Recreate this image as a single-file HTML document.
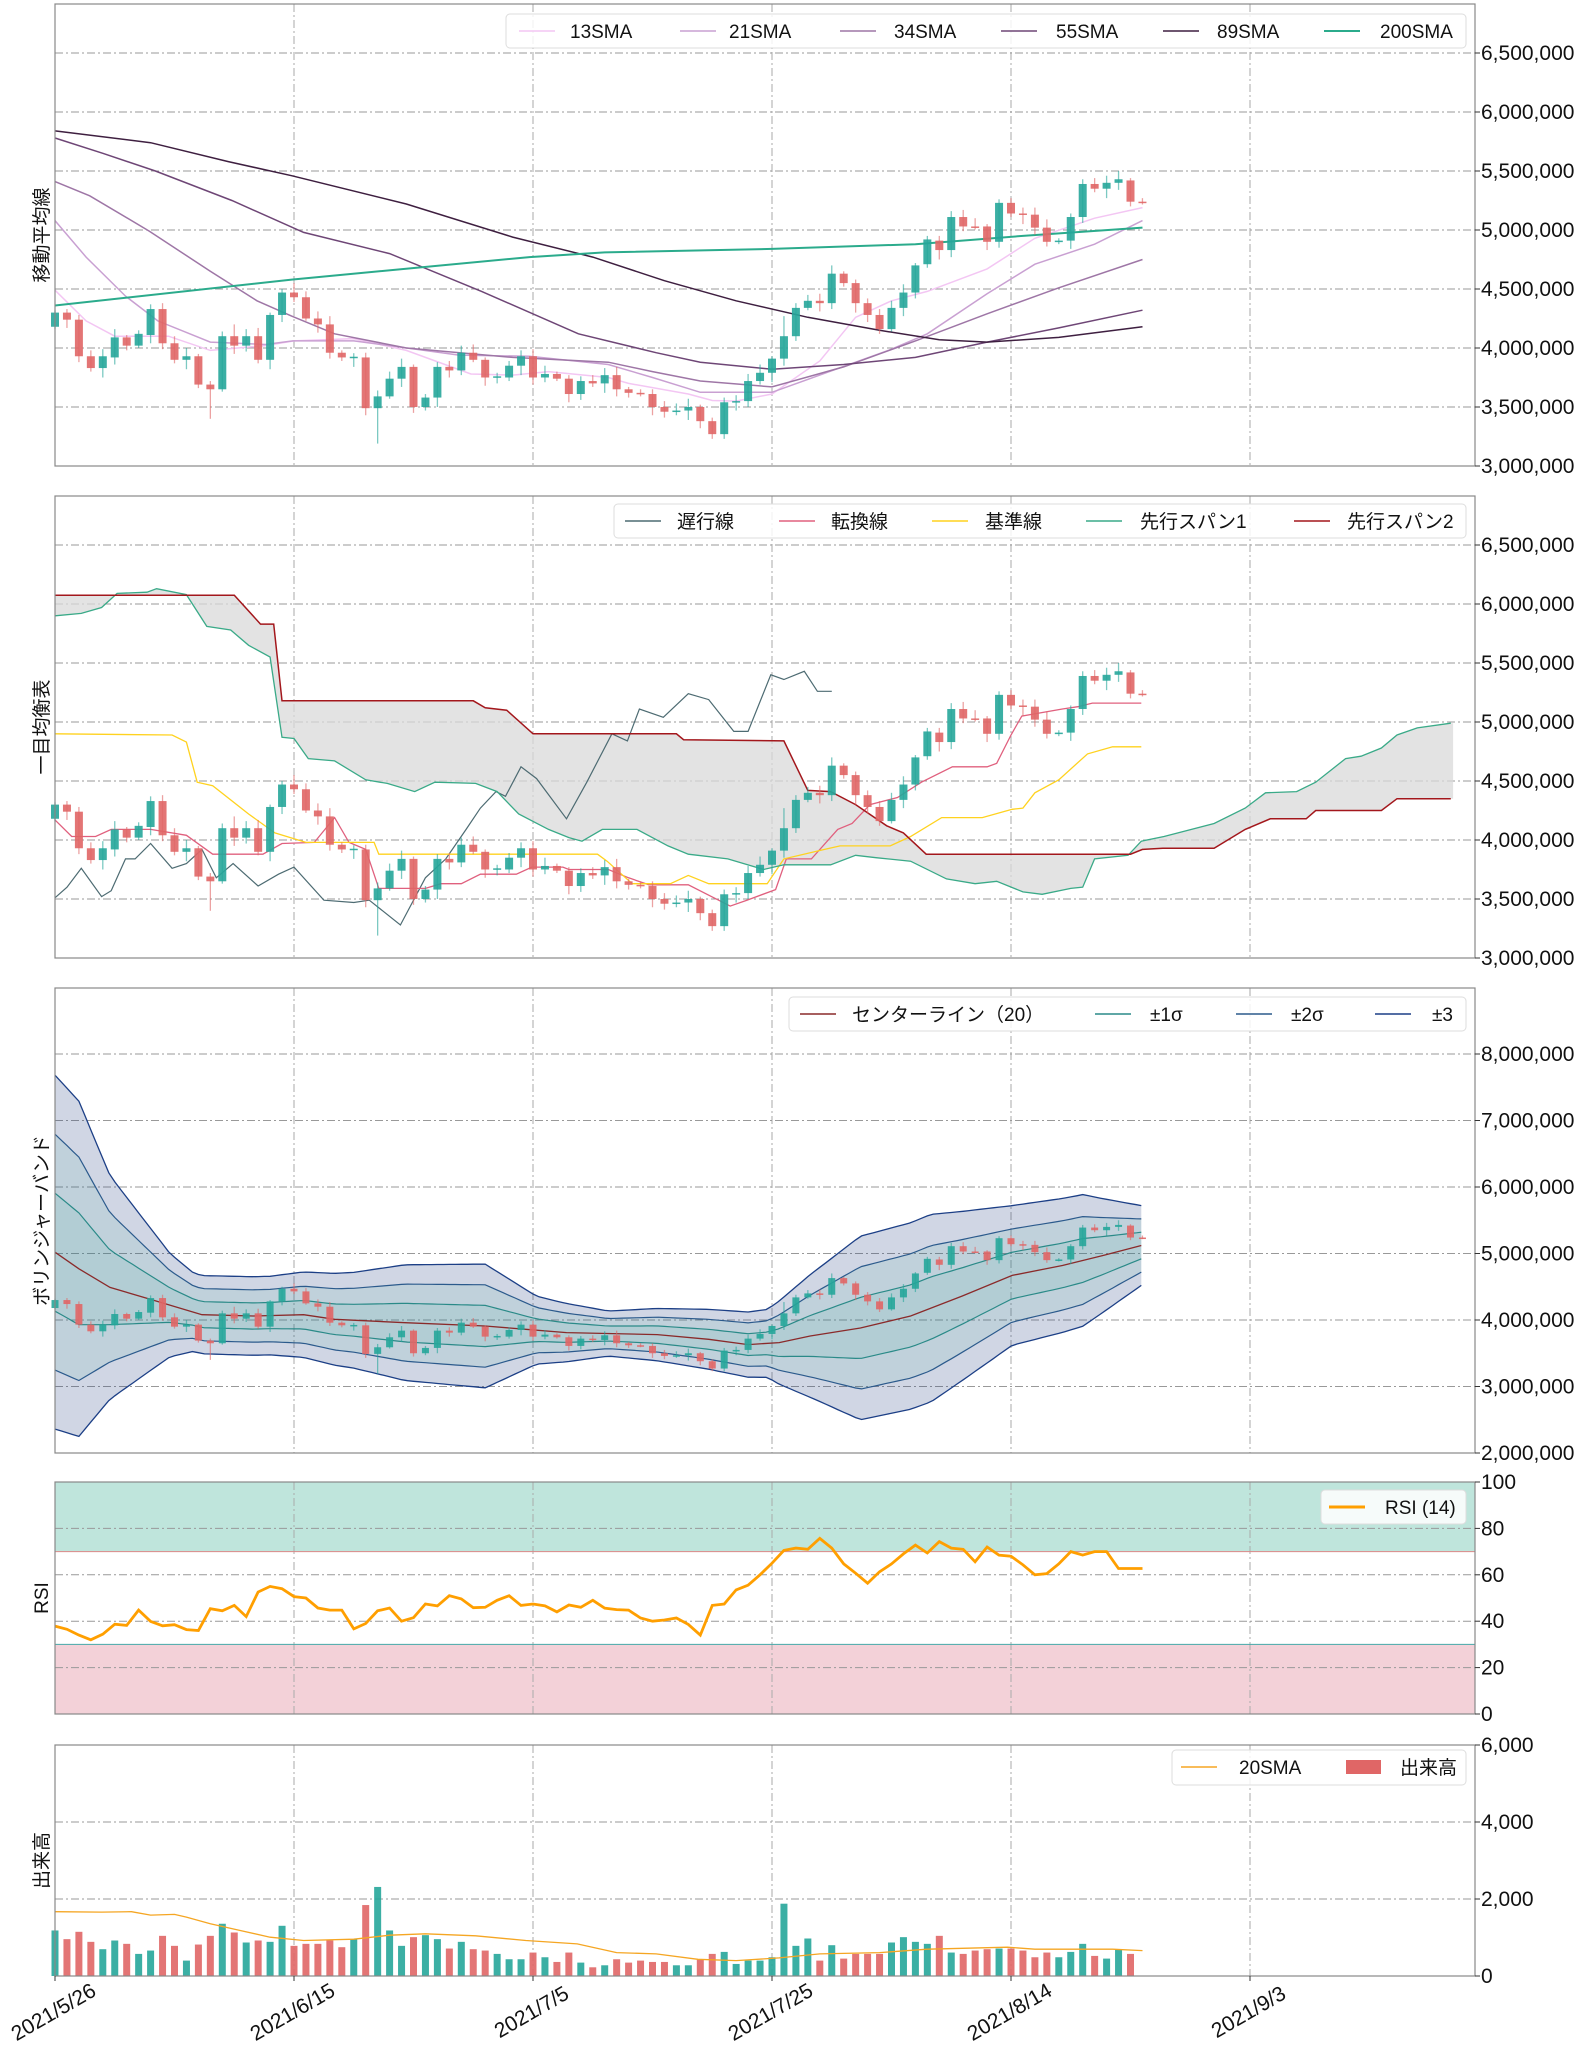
<!DOCTYPE html>
<html><head><meta charset="utf-8">
<style>
html,body{margin:0;padding:0;background:#fff;}
svg{display:block;font-family:"Liberation Sans","Noto Sans CJK JP",sans-serif;}
</style></head>
<body>
<svg id="s" width="1585" height="2048" viewBox="0 0 1585 2048" xmlns="http://www.w3.org/2000/svg"></svg>
<script>
const S=document.getElementById('s');
let out='';
const X=i=>55+11.95*i;
const L=55,R=1475;
const O=[418,430,424,393,383,392,409,402,411,433,404,390,393,369,365,410,402,410,390,428,447,443,425,420,396,392,392,349,359,374,384,350,358,384,381,396,390,375,375,385,393,375,378,374,361,372,370,377,365,362,361,350,346,347,350,338,327,354,355,372,379,391,410,434,440,438,463,455,438,428,416,434,447,471,491,483,511,503,503,490,523,514,513,502,490,491,511,539,535,540,542,524];
const C=[430,424,393,383,393,409,402,412,433,404,390,393,369,365,410,402,410,390,428,447,443,425,420,396,392,392.6,349,359,374,384,350,358,384,381,396,390,375,376,385,393,375,378,374,361,372,370,377,365,362,361,350,346,347,350,338,327,354,355,372,379,391,410,434,440,438,463,455,438,428,416,434,447,470,492,483,511,503,502.4,490,523,514,513,502,490,491,511,539,535,540,543,524,523.6];
const H=[],Lo=[];
for(let i=0;i<O.length;i++){H.push(Math.max(O[i],C[i])+2+(i*7%6));Lo.push(Math.min(O[i],C[i])-2-(i*5%7));}
Lo[13]=340;Lo[27]=319;H[20]=455;H[15]=420;Lo[12]=366;H[61]=427;Lo[56]=323;
function pl(pts,fy,col,w,extra){let d=pts.map((p,k)=>(k?'L':'M')+X(p[0]).toFixed(1)+','+fy(p[1]).toFixed(1)).join('');out+=`<path d="${d}" fill="none" stroke="${col}" stroke-width="${w}" ${extra||''}/>`;}
function grid(top,bot,ys){
 [0,20,40,60,80].forEach(k=>{const x=X(k*1.0*20/20*1)});
 for(let k=1;k<=5;k++){const x=L+239*k;out+=`<line x1="${x}" y1="${top}" x2="${x}" y2="${bot}" stroke="#aaa" stroke-width="1" stroke-dasharray="8,3,2,3"/>`;}
 ys.forEach(y=>{out+=`<line x1="${L}" y1="${y}" x2="${R}" y2="${y}" stroke="#999" stroke-width="1" stroke-dasharray="8,3,2,3"/>`;});
}
function frame(top,bot){out+=`<rect x="${L}" y="${top}" width="${R-L}" height="${bot-top}" fill="none" stroke="#888" stroke-width="1.2"/>`;}
function ylab(y,t){out+=`<line x1="${R}" y1="${y}" x2="${R+5}" y2="${y}" stroke="#333"/><text x="${R+6}" y="${y+7}" font-size="21" fill="#111">${t}</text>`;}
function title(top,bot,t){const cy=(top+bot)/2;out+=`<text transform="translate(48,${cy}) rotate(-90)" text-anchor="middle" font-size="19" fill="#111">${t}</text>`;}
function candles(fy,w){
 for(let i=0;i<O.length;i++){const up=C[i]>=O[i];const col=up?'#26a69a':'#e06666';const x=X(i);
  out+=`<line x1="${x}" y1="${fy(H[i])}" x2="${x}" y2="${fy(Lo[i])}" stroke="${col}" stroke-width="1.3" opacity="0.6"/>`;
  const y1=fy(Math.max(O[i],C[i])),y2=fy(Math.min(O[i],C[i]));
  out+=`<rect x="${x-w/2}" y="${y1}" width="${w}" height="${Math.max(1.5,y2-y1)}" fill="${col}" opacity="0.9"/>`;}
}
function legendBox(x1,x2,y1,y2){out+=`<rect x="${x1}" y="${y1}" width="${x2-x1}" height="${y2-y1}" rx="4" fill="#fff" fill-opacity="0.85" stroke="#ddd"/>`;}
function leg(lx,tx,y,col,t,w){out+=`<line x1="${lx}" y1="${y}" x2="${lx+36}" y2="${y}" stroke="${col}" stroke-width="${w||1.5}"/><text x="${tx}" y="${y+7}" font-size="19" fill="#111">${t}</text>`;}

// ===== Panel 1 =====
const f1=p=>466-(p-300)*1.18;
grid(4,466,[3.5,4,4.5,5,5.5,6,6.5].map(v=>f1(v*100)));
const sma13=[[0,449],[2.6,423],[5,410],[9.5,410],[13,398],[17.6,402],[20,406],[25,408],[29.4,398],[34.8,378],[38.3,377],[41.3,380],[46.3,375],[48,370],[53,361],[55,355.5],[57,355],[60,361],[64,389],[67,426],[70,440],[73,448],[78,467],[82,493],[87,510],[91,519]];
const sma21=[[0,508],[2.6,477],[5.9,444],[8.6,423],[13,405],[17.6,403],[19.9,406],[25,406],[28,402],[33.8,394],[39.7,393],[46.3,386],[50,375],[54,362.5],[60,362.5],[64,377],[70,399],[73,412],[78,446],[82,471],[87,488],[91,508]];
const sma34=[[0,541],[2.9,529],[7.9,499],[13,465],[16.9,440],[19.8,427],[23.4,412],[29.4,400],[38.3,392],[46.3,388],[50,380],[54,372],[60,367],[66,384],[72,406],[78,429],[84,451],[91,475]];
const sma55=[[0,578],[4,565],[8.4,550],[14.8,525],[20.8,498],[28,480],[35.7,448],[43.8,412],[50.3,396],[54,388],[60,382],[66,386],[72,392],[78,405],[84,417],[91,432]];
const sma89=[[0,584],[8,574],[14.5,558],[19.8,546],[29.4,522],[38.3,494],[45,477],[51,457],[57,440],[63,426],[69,415],[74,407],[78,405],[84,409],[91,418]];
const sma200=[[0,436],[19.8,458],[39.7,477],[46,481],[60,484],[72,488],[81,495],[91,502]];
pl(sma13,f1,'#f3c6f3',1.5);pl(sma21,f1,'#c9a0d2',1.5);pl(sma34,f1,'#9e76a6',1.5);pl(sma55,f1,'#6e4676',1.5);pl(sma89,f1,'#3e1f40',1.5);pl(sma200,f1,'#2bab8c',2);
candles(f1,8);
frame(4,466);
[3,3.5,4,4.5,5,5.5,6,6.5].forEach(v=>ylab(f1(v*100),(v*1000000).toLocaleString('en-US')));
title(4,466,'移動平均線');
legendBox(506,1466,14,48);
leg(519,570,31,'#f3c6f3','13SMA');leg(680,729,31,'#c9a0d2','21SMA');leg(840,894,31,'#9e76a6','34SMA');leg(1001,1056,31,'#6e4676','55SMA');leg(1163,1217,31,'#3e1f40','89SMA');leg(1324,1380,31,'#2bab8c','200SMA',2);

// ===== Panel 2 =====
const f2=p=>958-(p-300)*1.18;
grid(496,958,[3.5,4,4.5,5,5.5,6,6.5].map(v=>f2(v*100)));
const sp2=[[0,607.5],[15,607.5],[17.2,583],[18.3,583],[19,518],[35,518],[36,512],[37.8,510],[40,490],[52,490],[52.6,485],[61,484],[63,442],[64.9,441],[67,430],[69.6,412],[71,406],[72.9,388],[90,388],[91,392],[92.7,393],[97,393],[99.6,409],[101.7,418],[104.7,418],[105.5,425],[111,425],[112.3,435],[116.8,435]];
const sp1=[[0,590],[2.2,592],[3.9,597],[5.2,609],[7.7,610],[8.5,613],[11,608],[12.7,581],[14.7,578],[16.2,565],[18,555],[19,487],[20,486],[21.2,469],[23.4,467],[26,451],[27.8,448],[30.1,441],[31.8,449],[35.2,448],[37,441],[38.8,422],[41.3,409],[43,402],[44.1,399],[45.8,409],[48.7,409],[51.3,395],[53,388],[56.3,384],[59.3,375],[61,379],[64.9,379],[67,387],[68.7,385],[71.6,382],[74.6,367],[77,363],[78.8,365],[81,356],[82.6,354],[85,359],[86,360],[87,384],[89.8,387],[90.9,399],[92.8,403],[97,414],[99.6,427],[101.3,440],[103.9,441],[105.5,449],[108,469],[109.3,471],[111,478],[112.3,489],[114,495],[116.8,499]];
// cloud fill
function interp(a,t){for(let k=0;k<a.length-1;k++){if(t>=a[k][0]&&t<=a[k+1][0]){const u=(t-a[k][0])/(a[k+1][0]-a[k][0]||1);return a[k][1]+u*(a[k+1][1]-a[k][1]);}}return a[a.length-1][1];}
{let d='';const n=117*4;for(let k=0;k<=n;k++){const t=k/4;d+=(k?'L':'M')+X(t).toFixed(1)+','+f2(interp(sp1,t)).toFixed(1);}for(let k=n;k>=0;k--){const t=k/4;d+='L'+X(t).toFixed(1)+','+f2(interp(sp2,t)).toFixed(1);}out+=`<path d="${d}Z" fill="#d9d9d9" opacity="0.75"/>`;}
const tenkan=[[0,417],[1.4,403],[3.4,403],[4.7,409],[8,409],[11,404],[13.2,388],[17.4,388],[19,397],[21.7,398],[23.4,419],[24.6,398],[26,392],[27.1,359],[31,359],[32.3,363],[34,363],[35.6,371],[38.6,371],[39.9,377],[42.5,377],[43,375],[46.3,375],[48,368],[49.7,362],[53,362],[56.5,344],[57.9,349],[60.3,358],[61.2,384],[63.3,384],[65.5,409],[66.7,414],[68.2,430],[70.5,436],[72.5,449],[75.1,462],[78,462],[78.8,465],[80,489],[80.9,505],[84.3,511],[85.6,513],[86.8,516],[90.9,516]];
const kijun=[[0,490],[9.8,489],[11,483],[11.9,449],[13.2,446],[16.2,422],[18.4,406],[21,398],[26.7,398],[27.1,388],[45.4,388],[46.2,382],[48.3,363],[51.5,363],[53,370],[54.7,363],[59.6,363],[61,384],[64.4,392],[65.7,395],[69.9,395],[71.6,403],[74.2,419],[77.6,419],[80.1,426],[81,427],[82,440],[84,451],[86.4,473],[88.5,479],[90.9,479]];
const chikou=[[0,351],[1,360],[2.2,376],[3.9,352],[4.7,357],[5.9,384],[6.7,384],[8,397],[9.8,376],[11,380],[12.3,392],[13.5,368],[14.9,380],[17,361],[18.7,371],[20,377],[22.5,349],[25,347],[26.3,349],[28.9,328],[31,368],[32.7,384],[34.4,409],[35.6,427],[36.9,441],[37.7,437],[39,462],[40.3,452],[42.8,418],[44.5,449],[46.6,490],[47.9,484],[48.9,511],[50.9,504],[53,524],[54.7,519],[56.8,492],[58,492],[59.9,540],[61,536],[62.7,543],[63.8,526],[65,526]];
pl(chikou,f2,'#4d6b72',1.2);pl(tenkan,f2,'#e0607e',1.3);pl(kijun,f2,'#ffd21f',1.3);pl(sp1,f2,'#3aaa88',1.3);pl(sp2,f2,'#a3171c',1.5);
candles(f2,8);
frame(496,958);
[3,3.5,4,4.5,5,5.5,6,6.5].forEach(v=>ylab(f2(v*100),(v*1000000).toLocaleString('en-US')));
title(496,958,'一目均衡表');
legendBox(614,1466,504,538);
leg(625,677,521,'#4d6b72','遅行線');leg(779,831,521,'#e0607e','転換線');leg(932,985,521,'#ffd21f','基準線');leg(1086,1140,521,'#3aaa88','先行スパン1');leg(1294,1347,521,'#a3171c','先行スパン2');

// ===== Panel 3 Bollinger =====
const f3=p=>1453-(p-200)*0.665;
grid(988,1453,[3,4,5,6,7,8].map(v=>f3(v*100)));
const cen=[[0,502],[2,477],[4.6,449],[8,431],[12.3,408],[16.6,406],[20.8,408],[23.4,401],[29.3,396],[36,391],[39.4,386],[42.8,381],[50.4,378],[54.7,371],[58,363],[60.6,366],[63.2,376],[67.4,388],[71.6,406],[75.9,436],[80.1,467],[84.3,482],[87.7,497],[90.9,512]];
const sd=[[0,88.7],[2,84],[4.6,56],[7.1,41],[9.6,26],[11.6,19.6],[18,19.7],[25,24],[29.3,29],[36,31],[40.3,17],[46.3,11.3],[54.7,15],[59.6,17],[63,30],[67.4,46],[73.3,47],[80.1,35],[86,33],[90.9,20]];
function band(k){const a=[];for(let t=0;t<=90.9;t+=0.5){a.push([t,interp(cen,t)+k*interp(sd,t)]);}a.push([90.9,interp(cen,90.9)+k*interp(sd,90.9)]);return a;}
function fillB(a,b,col){let d='';a.forEach((p,k)=>d+=(k?'L':'M')+X(p[0]).toFixed(1)+','+f3(p[1]).toFixed(1));b.slice().reverse().forEach(p=>d+='L'+X(p[0]).toFixed(1)+','+f3(p[1]).toFixed(1));out+=`<path d="${d}Z" fill="${col}"/>`;}
const b3=band(3),b2=band(2),b1=band(1),m1=band(-1),m2=band(-2),m3=band(-3);
fillB(b3,m3,'rgba(40,70,130,0.22)');fillB(b2,m2,'rgba(60,170,150,0.10)');fillB(b1,m1,'rgba(60,180,160,0.10)');
pl(b3,f3,'#1c3f86',1.3);pl(m3,f3,'#1c3f86',1.3);pl(b2,f3,'#2b5a8c',1.2);pl(m2,f3,'#2b5a8c',1.2);pl(b1,f3,'#2a8a88',1.2);pl(m1,f3,'#2a8a88',1.2);pl(cen,f3,'#8a2a2a',1.3);
candles(f3,7);
frame(988,1453);
[2,3,4,5,6,7,8].forEach(v=>ylab(f3(v*100),(v*1000000).toLocaleString('en-US')));
title(988,1453,'ボリンジャーバンド');
legendBox(789,1466,997,1031);
leg(800,852,1014,'#8a2a2a','センターライン（20）');leg(1095,1150,1014,'#2a8a88','±1σ');leg(1236,1291,1014,'#2b5a8c','±2σ');leg(1375,1432,1014,'#1c3f86','±3');

// ===== RSI =====
const f4=v=>1714-v*2.32;
out+=`<rect x="${L}" y="${f4(100)}" width="${R-L}" height="${f4(70)-f4(100)}" fill="#bfe5dc"/>`;
out+=`<rect x="${L}" y="${f4(30)}" width="${R-L}" height="${f4(0)-f4(30)}" fill="#f3d1d8"/>`;
grid(1482,1714,[20,40,60,80].map(f4));
out+=`<line x1="${L}" y1="${f4(70)}" x2="${R}" y2="${f4(70)}" stroke="#d88" stroke-width="1"/><line x1="${L}" y1="${f4(30)}" x2="${R}" y2="${f4(30)}" stroke="#4aa" stroke-width="1"/>`;
const rsi=[37.9,36.5,34,32,34.4,38.7,38.2,44.8,39.9,38,38.5,36.4,36,45.4,44.5,46.8,42,52.6,55,54,50.6,50,45.7,44.8,44.8,36.7,39,44.5,45.7,40,41.5,47.4,46.6,51,49.6,45.8,46,49,51,46.8,47.4,46.6,44,47,46,49,45.6,45,44.8,41.4,40,40.5,41.4,38.6,34,46.8,47.4,53.5,55.5,60,65,70.5,71.5,71,75.7,71.5,64.7,60.7,56.4,61.3,64.7,69,72.8,69.4,74.3,71.5,71,65.6,72,68.5,68,64.3,60,60.5,64.7,70,68.5,70,70,62.7,62.7,62.7];
pl(rsi.slice(0,92).map((v,i)=>[i,v]),f4,'#ff9f00',2.8);
frame(1482,1714);
[0,20,40,60,80,100].forEach(v=>ylab(f4(v),v));
title(1482,1714,'RSI');
legendBox(1321,1466,1490,1524);
leg(1329,1385,1507,'#ff9f00','RSI (14)',3);

// ===== Volume =====
const f5=v=>1976-v*0.0385;
grid(1745,1976,[2000,4000].map(f5));
const vol=[1183,957,1148,887,696,922,835,574,661,1043,783,400,817,1043,1357,1130,870,922,887,1304,783,835,835,922,748,957,1843,2313,1183,783,1009,1061,957,713,887,696,661,574,435,435,609,487,365,609,348,226,278,435,348,400,365,365,278,278,435,574,626,313,400,400,487,1878,783,974,400,800,452,574,574,574,870,1009,887,835,1043,609,574,661,696,713,713,661,487,609,487,626,835,522,452,696,574,0];
for(let i=0;i<92;i++){if(!vol[i])continue;const up=C[i]>=O[i];out+=`<rect x="${X(i)-3.5}" y="${f5(vol[i])}" width="7" height="${vol[i]*0.0385}" fill="${up?'#26a69a':'#e06666'}" opacity="0.9"/>`;}
const vsma=[[0,1670],[3.9,1660],[6.4,1670],[8,1583],[10,1600],[11,1530],[13,1357],[15.5,1183],[18,1009],[20.8,922],[25,957],[28,1061],[31,1096],[35.2,1043],[39.4,922],[43.7,835],[47,609],[50.3,574],[53.8,435],[57,400],[60.6,470],[64,574],[69,609],[73,696],[79.7,748],[82,696],[84.3,696],[88.5,696],[91,661]];
pl(vsma,f5,'#f5a623',1.3);
frame(1745,1976);
[0,2000,4000,6000].forEach(v=>ylab(f5(v),v.toLocaleString('en-US')));
title(1745,1976,'出来高');
legendBox(1172,1466,1750,1785);
leg(1181,1239,1767,'#f5a623','20SMA');
out+=`<rect x="1346" y="1760" width="35" height="14" fill="#e06666"/><text x="1400" y="1774" font-size="19" fill="#111">出来高</text>`;

// x labels
['2021/5/26','2021/6/15','2021/7/5','2021/7/25','2021/8/14','2021/9/3'].forEach((t,k)=>{const x=L+239*k;
 out+=`<line x1="${x}" y1="1976" x2="${x}" y2="1981" stroke="#333"/>`;
 out+=`<text transform="translate(${x+2},2018) rotate(-30)" text-anchor="middle" font-size="21" fill="#111">${t}</text>`;});
S.innerHTML=out;
</script>
</body></html>
